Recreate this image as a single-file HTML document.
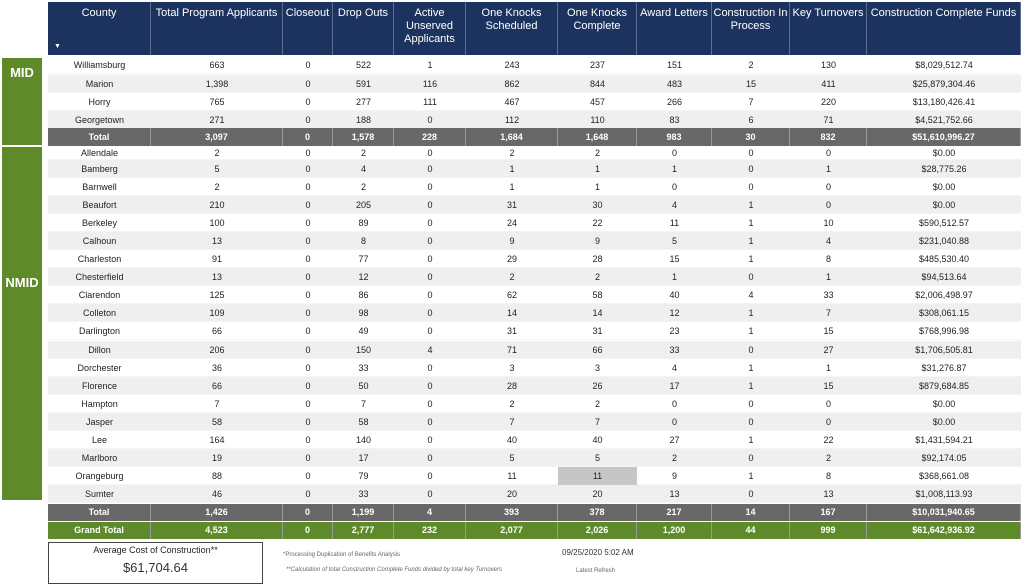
<!DOCTYPE html>
<html><head><meta charset="utf-8">
<style>
body{margin:0;width:1024px;height:586px;background:#fff;position:relative;overflow:hidden;font-family:"Liberation Sans",sans-serif;}
.a{position:absolute;box-sizing:border-box;}
.hd{background:#1c335f;color:#fff;font-size:11px;text-align:center;line-height:13px;padding-top:5px;border-right:1px solid #5c6f90;}
.c{font-size:9px;color:#222;text-align:center;white-space:nowrap;display:flex;align-items:center;justify-content:center;}
.seg{background:#5f8a2a;color:#fff;font-weight:bold;font-size:13px;text-align:center;}
</style></head><body>
<div id="tbl"></div>
<div class="a seg" style="left:2px;top:58px;width:40px;height:87px;padding-top:7px">MID</div>
<div class="a seg" style="left:2px;top:147px;width:40px;height:353px;padding-top:128px">NMID</div>
<div class="a" style="left:48px;top:542px;width:215px;height:42px;border:1px solid #444;text-align:center">
<div style="font-size:9px;color:#222;margin-top:2px">Average Cost of Construction**</div>
<div style="font-size:13px;color:#333;margin-top:5px">$61,704.64</div></div>
<div class="a" style="left:283px;top:552px;font-size:6px;color:#666">*Processing Duplication of Benefits Analysis</div>
<div class="a" style="left:286px;top:567px;font-size:6px;color:#666;font-style:italic">**Calculation of total Construction Complete Funds divided by total key Turnovers</div>
<div class="a" style="left:562px;top:548px;font-size:8px;color:#333">09/25/2020 5:02 AM</div>
<div class="a" style="left:576px;top:568px;font-size:6px;color:#666">Latest Refresh</div>
<script>
const headers=["County","Total Program Applicants","Closeout","Drop Outs","Active Unserved Applicants","One Knocks Scheduled","One Knocks Complete","Award Letters","Construction In Process","Key Turnovers","Construction Complete Funds"];
const midRows=[
["Williamsburg","663","0","522","1","243","237","151","2","130","$8,029,512.74"],
["Marion","1,398","0","591","116","862","844","483","15","411","$25,879,304.46"],
["Horry","765","0","277","111","467","457","266","7","220","$13,180,426.41"],
["Georgetown","271","0","188","0","112","110","83","6","71","$4,521,752.66"]];
const midTotal=["Total","3,097","0","1,578","228","1,684","1,648","983","30","832","$51,610,996.27"];
const nmidRows=[
["Allendale","2","0","2","0","2","2","0","0","0","$0.00"],
["Bamberg","5","0","4","0","1","1","1","0","1","$28,775.26"],
["Barnwell","2","0","2","0","1","1","0","0","0","$0.00"],
["Beaufort","210","0","205","0","31","30","4","1","0","$0.00"],
["Berkeley","100","0","89","0","24","22","11","1","10","$590,512.57"],
["Calhoun","13","0","8","0","9","9","5","1","4","$231,040.88"],
["Charleston","91","0","77","0","29","28","15","1","8","$485,530.40"],
["Chesterfield","13","0","12","0","2","2","1","0","1","$94,513.64"],
["Clarendon","125","0","86","0","62","58","40","4","33","$2,006,498.97"],
["Colleton","109","0","98","0","14","14","12","1","7","$308,061.15"],
["Darlington","66","0","49","0","31","31","23","1","15","$768,996.98"],
["Dillon","206","0","150","4","71","66","33","0","27","$1,706,505.81"],
["Dorchester","36","0","33","0","3","3","4","1","1","$31,276.87"],
["Florence","66","0","50","0","28","26","17","1","15","$879,684.85"],
["Hampton","7","0","7","0","2","2","0","0","0","$0.00"],
["Jasper","58","0","58","0","7","7","0","0","0","$0.00"],
["Lee","164","0","140","0","40","40","27","1","22","$1,431,594.21"],
["Marlboro","19","0","17","0","5","5","2","0","2","$92,174.05"],
["Orangeburg","88","0","79","0","11","11","9","1","8","$368,661.08"],
["Sumter","46","0","33","0","20","20","13","0","13","$1,008,113.93"]];
const nmidTotal=["Total","1,426","0","1,199","4","393","378","217","14","167","$10,031,940.65"];
const grandTotal=["Grand Total","4,523","0","2,777","232","2,077","2,026","1,200","44","999","$61,642,936.92"];
const colX=[48,151,283,333,394,466,558,637,712,790,867,1021];
const tbl=document.getElementById('tbl');
function cell(x,y,w,h,txt,cls,style,name){
  const d=document.createElement('div');
  d.className='a '+cls;
  d.style.cssText=`left:${x}px;top:${y}px;width:${w}px;height:${h}px;`+(style||'');
  d.textContent=txt;
  
  
  tbl.appendChild(d);return d;
}
headers.forEach((h,i)=>{
  const d=cell(colX[i],2,colX[i+1]-colX[i],53,h,'hd','','header-'+h.toLowerCase().replace(/\s+/g,'-'));
  
});
cell(54,44,8,6,'\u25BC','', 'color:#fff;font-size:7px;line-height:6px','sort-arrow');
function row(r,y,h,bg,bold,color,name,hl){
  const bar=cell(48,y,973,h,'','',`background:${bg};`+(bold?'':'border-bottom:1px solid #f4f4f4;'),name);
  r.forEach((v,i)=>{
    let st=(bold?'font-weight:bold;':'')+'color:'+color+';';
    if(bold) st+='border-right:1px solid #999;';
    if(hl&&i===6) st+='background:#c6c6c6;';
    cell(colX[i],y,colX[i+1]-colX[i],h,v,'c',st,name+'-cell');
  });
}
const midTops=[56,74.5,92.5,110.5];
midRows.forEach((r,i)=>row(r,midTops[i],18,i%2?'#efefef':'#fff',false,'#222','row-'+r[0].toLowerCase()));
row(midTotal,128,18,'#686868',true,'#fff','mid-total-row');
nmidRows.forEach((r,i)=>{
  const y=i===0?146:160+(i-1)*18.05;
  const h=i===0?14:18;
  row(r,y,h,i%2?'#efefef':'#fff',false,'#222','row-'+r[0].toLowerCase(),r[0]==='Orangeburg');
});
row(nmidTotal,503.5,17.5,'#686868',true,'#fff','nmid-total-row');
row(grandTotal,521.5,17.5,'#5f8a2a',true,'#fff','grand-total-row');
</script>
</body></html>
